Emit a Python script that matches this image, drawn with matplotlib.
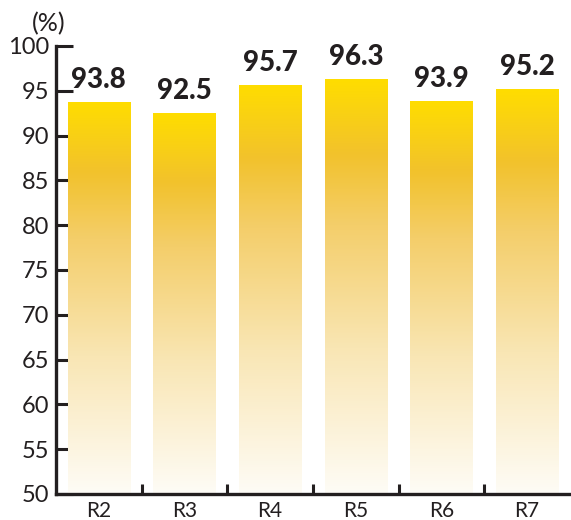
import numpy as np
import matplotlib
matplotlib.use("Agg")
import matplotlib.pyplot as plt
from matplotlib.colors import LinearSegmentedColormap

categories = ["R2", "R3", "R4", "R5", "R6", "R7"]
values = [93.8, 92.5, 95.7, 96.3, 93.9, 95.2]
yticks = [50, 55, 60, 65, 70, 75, 80, 85, 90, 95, 100]

plt.rcParams['font.family'] = ['Lato', 'DejaVu Sans']
dark = "#231F20"

fig = plt.figure(figsize=(5.71, 5.20), dpi=100)
ax = fig.add_axes([56/571, 26/520, 514/571, 448/520])

cmap = LinearSegmentedColormap.from_list(
    "g", [(0.0, "#FEFCF6"), (0.35, "#F9E6B4"), (0.65, "#F4CE6A"),
          (0.82, "#F2C22C"), (1.0, "#FFDD00")])

x = np.arange(len(categories))
bars = ax.bar(x, values, width=0.73, bottom=0, color="none", edgecolor="none")
grad = np.linspace(0, 1, 256).reshape(-1, 1)
for b, v in zip(bars, values):
    x0 = b.get_x()
    w = b.get_width()
    im = ax.imshow(grad, cmap=cmap, origin="lower", aspect="auto",
                   extent=[x0, x0 + w, 50, v], zorder=2)
    im.set_clip_path(b)
    ax.text(b.get_x() + w / 2, v + 1.0, f"{v:.1f}", ha="center", va="bottom",
            fontsize=20, fontweight="black", color=dark, zorder=3)

ax.set_xlim(-0.5, len(categories) - 0.5)
ax.set_ylim(50, 100)
ax.set_yticks(yticks)
ax.set_yticklabels([str(t) for t in yticks], fontsize=17, color=dark)
ax.set_xticks(x)
ax.set_xticklabels(categories, fontsize=15, color=dark)
ax.tick_params(axis="x", length=0, pad=5)
ax.set_xticks(np.arange(0.5, len(categories) - 0.5, 1), minor=True)
ax.tick_params(axis="x", which="minor", direction="in", length=7, width=2.2, color=dark)
ax.tick_params(axis="y", direction="in", length=12, width=2.2, color=dark, pad=5)

for s in ["top", "right"]:
    ax.spines[s].set_visible(False)
for s in ["left", "bottom"]:
    ax.spines[s].set_linewidth(2.4)
    ax.spines[s].set_color(dark)

ax.text(-0.014, 1.049, "(%)", transform=ax.transAxes, fontsize=18,
        color=dark, ha="center", va="center")

fig.savefig("out.png", dpi=100)
